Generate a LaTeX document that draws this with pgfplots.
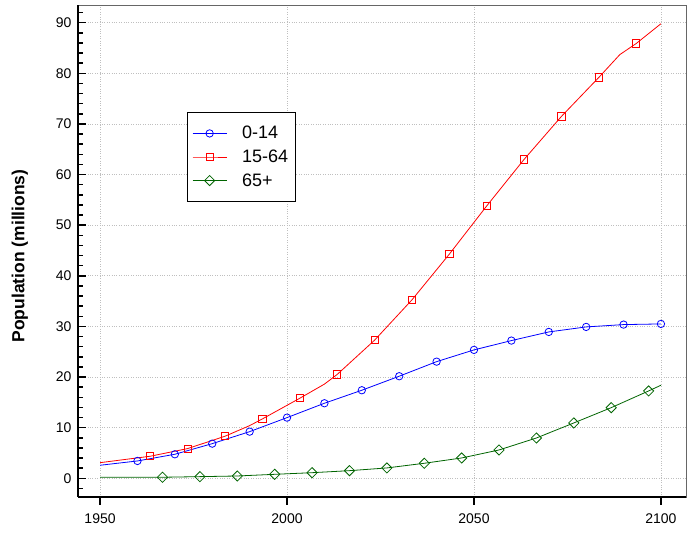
\documentclass[border=0pt]{standalone}
\usepackage{pgfplots}
\pgfplotsset{compat=1.18}
\usepackage{fontspec}
\setmainfont{Liberation Sans}
\definecolor{rgreen}{RGB}{0,100,0}
\begin{document}
\begin{tikzpicture}
\begin{axis}[
  name=ax,
  scale only axis,
  width=608pt, height=492pt,
  xmin=1944.1, xmax=2106.7,
  ymin=-3.7, ymax=93.5,
  xtick={1950,2000,2050,2100},
  ytick={0,10,...,90},
  minor ytick={-2,0,...,92},
  xtick pos=bottom, ytick pos=left,
  xtick align=outside, ytick align=inside,
  major tick length=8pt,
  minor tick length=5pt,
  every tick/.style={black, line width=1.5pt},
  axis line style={black!60, line width=0.8pt},
  grid=major,
  major grid style={dotted, gray!50, line width=0.6pt},
  /pgf/number format/assume math mode=true,
  /pgf/number format/1000 sep={},
  tick label style={font=\fontsize{14}{16}\selectfont, black},
  xticklabel style={yshift=-5pt},
  yticklabel style={xshift=-3pt},
  ylabel={\textbf{Population (millions)}},
  ylabel style={font=\fontsize{17.5}{20}\selectfont, yshift=21pt, xshift=-5pt},
  legend style={at={(rel axis cs:0.179,0.7825)}, anchor=north west,
    draw=black, line width=0.8pt, fill=white,
    font=\fontsize{18}{21}\selectfont, inner xsep=5pt, inner ysep=12pt,
    row sep=5.5pt, column sep=13pt, cells={anchor=west}},
  legend image code/.code={\draw[mark repeat=2,mark phase=2,#1] plot coordinates {(0pt,0pt) (17pt,0pt) (34pt,0pt)};},
  clip=false,
]
% 0-14
\addplot[blue, line width=0.8pt, forget plot] coordinates {
(1950,2.57)(1960,3.42)(1970,4.74)(1980,6.84)(1990,9.21)(2000,11.98)(2010,14.82)(2020,17.39)
(2030,20.16)(2040,23.04)(2050,25.36)(2060,27.2)(2070,28.91)(2080,29.9)(2090,30.36)(2100,30.49)};
% 15-64
\addplot[red, line width=0.8pt, forget plot] coordinates {
(1950,3.08)(1963.4,4.35)(1973.4,5.86)(1983.4,8.3)(1990,10.4)(1993.4,11.72)(2003.4,15.8)(2010,18.6)(2013.4,20.5)
(2023.4,27.27)(2033.4,35.24)(2043.4,44.27)(2053.4,53.8)(2063.4,63.0)(2073.4,71.5)(2083.4,79.2)(2089,83.7)(2093.4,85.9)(2100,89.8)};
% 65+
\addplot[rgreen, line width=0.8pt, forget plot] coordinates {
(1950,0.2)(1966.7,0.2)(1976.7,0.32)(1986.7,0.45)(1996.7,0.78)(2006.7,1.1)(2016.7,1.5)(2026.7,2.04)
(2036.7,2.96)(2046.7,4.01)(2056.7,5.59)(2066.7,7.96)(2076.7,10.93)(2086.7,13.95)(2096.7,17.25)(2100,18.38)};
% markers
\addplot[blue, only marks, mark=o, mark size=3.7pt, line width=0.8pt, forget plot] coordinates {
(1960,3.42)(1970,4.74)(1980,6.84)(1990,9.21)(2000,11.98)(2010,14.82)(2020,17.39)
(2030,20.16)(2040,23.04)(2050,25.36)(2060,27.2)(2070,28.91)(2080,29.9)(2090,30.36)(2100,30.49)};
\addplot[red, only marks, mark=square, mark size=3.6pt, line width=0.8pt, forget plot] coordinates {
(1963.4,4.35)(1973.4,5.86)(1983.4,8.3)(1993.4,11.72)(2003.4,15.8)(2013.4,20.5)
(2023.4,27.27)(2033.4,35.24)(2043.4,44.27)(2053.4,53.8)(2063.4,63.0)(2073.4,71.5)(2083.4,79.2)(2093.4,85.9)};
\addplot[rgreen, only marks, mark=square, mark size=3.6pt, line width=0.8pt, mark options={rotate=45}, forget plot] coordinates {
(1966.7,0.2)(1976.7,0.32)(1986.7,0.45)(1996.7,0.78)(2006.7,1.1)(2016.7,1.5)(2026.7,2.04)
(2036.7,2.96)(2046.7,4.01)(2056.7,5.59)(2066.7,7.96)(2076.7,10.93)(2086.7,13.95)(2096.7,17.25)};
\addlegendimage{blue, line width=0.8pt, mark=o, mark size=3.7pt}
\addlegendentry{0-14}
\addlegendimage{red, line width=0.8pt, mark=square, mark size=3.6pt}
\addlegendentry{15-64}
\addlegendimage{rgreen, line width=0.8pt, mark=square, mark size=3.6pt, mark options={rotate=45}}
\addlegendentry{65+}
\draw[black, line width=1.6pt] (rel axis cs:0,0) -- (rel axis cs:0,1);
\draw[black, line width=1.6pt] (rel axis cs:0,0) -- (rel axis cs:1,0);
\end{axis}
\pgfresetboundingbox
\path ([xshift=-78pt,yshift=-38pt]ax.south west) rectangle ([xshift=9pt,yshift=5pt]ax.north east);
\end{tikzpicture}
\end{document}
